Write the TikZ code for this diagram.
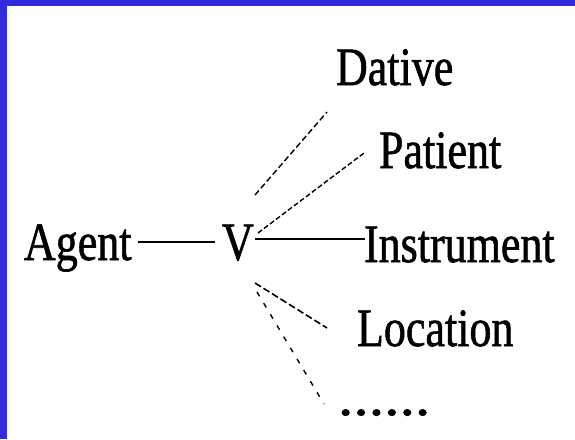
\documentclass[tikz,border=0pt]{standalone}
\usepackage{graphicx}
\usepackage{fontspec}
\setmainfont{Liberation Serif}
\newfontfamily\lblfont[FakeBold=1.2]{Liberation Serif}
\definecolor{frameblue}{RGB}{48,44,222}
\newcommand\hsqz[2][0.815]{\scalebox{#1}[1]{#2}}
\tikzset{
  lbl/.style={anchor=base west, inner sep=0pt, outer sep=0pt, font=\lblfont\fontsize{54}{60}\selectfont},
  solidln/.style={line width=1.7pt, line cap=butt},
  dashA/.style={line width=1.4pt, dash pattern=on 6pt off 3pt},
  dashB/.style={line width=1.4pt, dash pattern=on 5pt off 2.5pt},
  dashC/.style={line width=1.6pt, dash pattern=on 7pt off 3pt},
  dashD/.style={line width=1.4pt, dash pattern=on 5pt off 8pt}
}
\begin{document}
\begin{tikzpicture}[x=1pt,y=-1pt]
\useasboundingbox (0,0) rectangle (575,439);
\fill[white] (0,0) rectangle (575,439);
\fill[frameblue] (0,0) rectangle (575,6);
\fill[frameblue] (0,0) rectangle (7,439);

\node[lbl] (agent) at (24,260) {\hsqz{Agent}};
\node[lbl] (V) at (222,260) {\hsqz{V}};
\node[lbl] (dative) at (336,85) {\hsqz{Dative}};
\node[lbl] (patient) at (379,168) {\hsqz{Patient}};
\node[lbl] (instrument) at (364,262) {\hsqz{Instrument}};
\node[lbl] (location) at (357,346) {\hsqz{Location}};
\node[lbl] (dots) at (338,415) {\hsqz[1.14]{......}};

\coordinate (aE) at (138,242);
\coordinate (aV) at (215,242);
\coordinate (iV) at (255,239);
\coordinate (iE) at (365,239);
\coordinate (dV) at (255,195);
\coordinate (dE) at (327,112);
\coordinate (pV) at (258,233);
\coordinate (pE) at (364,153);
\coordinate (lV) at (255,283);
\coordinate (lE) at (327,328);
\coordinate (xV) at (257,292);
\coordinate (xE) at (324,404);

\draw[solidln] (aE) -- (aV);
\draw[solidln] (iV) -- (iE);
\draw[dashA] (dV) -- (dE);
\draw[dashB] (pV) -- (pE);
\draw[dashC] (lV) -- (lE);
\draw[dashD] (xV) -- (xE);
\end{tikzpicture}
\end{document}
